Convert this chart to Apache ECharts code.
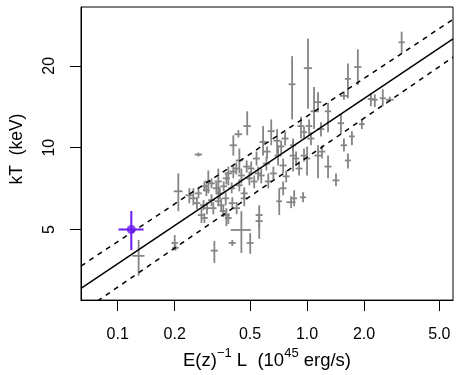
<!DOCTYPE html>
<html><head><meta charset="utf-8">
<script src="https://cdn.jsdelivr.net/npm/echarts@6/dist/echarts.min.js"></script>
<style>html,body{margin:0;padding:0;background:#fff}#c{width:459px;height:375px}</style>
</head><body><div id="c"></div>
<script>
// cluster sample: luminosity E(z)^-1 L (10^45 erg/s) and temperature kT (keV)
const L = [3.16,0.834,1.012,1.644,1.855,1.566,2.173,2.280,2.512,2.735,1.947,1.089,1.143,1.291,1.510,1.726,1.566,1.644,1.422,0.483,0.434,0.408,0.586,0.647,0.695,0.766,0.929,0.964,1.025,1.143,1.199,1.291,1.0,0.844,0.703,0.615,0.748,0.730,0.844,0.875,0.964,0.748,0.713,0.824,0.855,0.953,0.559,0.559,0.624,0.573,0.466,0.450,0.501,0.403,0.439,0.507,0.526,0.496,0.552,0.450,0.267,0.209,0.239,0.251,0.267,0.277,0.287,0.284,0.294,0.301,0.313,0.320,0.332,0.340,0.352,0.361,0.375,0.384,0.375,0.384,0.408,0.423,0.439,0.466,0.324,0.200,0.202,0.313,0.287,0.340,0.129,0.403,
  0.262,0.296,0.346,0.363,0.400,0.425,0.480,0.541,0.610,0.664,0.776,1.049,1.184,0.908,0.372];
const Lerr = [0.12,0.035,0.05,0.06,0.08,0.07,0.08,0.08,0.09,0.13,0.07,0.045,0.05,0.05,0.06,0.06,0.06,0.06,0.06,0.022,0.02,0.018,0.025,0.028,0.03,0.032,0.04,0.035,0.04,0.05,0.05,0.055,0.04,0.035,0.03,0.026,0.032,0.03,0.03,0.035,0.04,0.032,0.025,0.045,0.03,0.035,0.024,0.024,0.026,0.024,0.02,0.055,0.021,0.017,0.019,0.021,0.022,0.021,0.023,0.019,0.012,0.011,0.011,0.011,0.011,0.012,0.012,0.012,0.012,0.013,0.013,0.013,0.014,0.015,0.015,0.015,0.016,0.016,0.016,0.017,0.017,0.018,0.018,0.02,0.014,0.008,0.008,0.013,0.012,0.014,0.0095,0.017,
  0.011,0.012,0.015,0.015,0.017,0.018,0.02,0.023,0.026,0.028,0.033,0.045,0.05,0.038,0.016];
const kT = [24.4,17.1,19.6,17.9,19.8,15.5,15.1,15.0,15.2,15.0,12.2,13.6,14.7,13.6,12.3,11.0,10.2,8.97,7.58,12.0,11.2,10.2,10.5,11.5,10.6,10.8,12.0,11.4,12.0,9.35,9.67,8.52,9.12,9.35,9.35,9.67,8.60,10.1,10.2,9.12,9.35,7.09,6.35,6.30,6.51,6.57,5.65,5.37,7.51,7.90,6.51,4.98,4.46,4.46,8.97,8.38,7.51,7.71,8.04,7.90,9.43,6.91,6.68,6.51,6.79,5.65,5.51,6.14,6.97,7.51,6.41,5.99,7.09,7.51,6.14,5.84,5.65,5.51,7.71,8.04,8.17,8.38,7.27,6.79,4.18,4.46,4.28,7.39,7.21,6.35,4.00,6.25,
  6.25,5.99,6.79,7.21,7.09,5.99,8.52,9.12,8.74,8.04,7.84,10.8,11.7,8.38,6.51];
const kTlo = [22.2,12.7,13.9,15.2,17.0,15.0,14.2,14.1,14.2,14.7,11.7,11.7,13.5,11.4,11.2,10.2,9.67,8.38,7.21,11.1,10.9,9.35,9.35,10.2,9.43,10.2,10.8,10.8,11.1,7.71,9.12,7.71,7.90,8.17,8.60,9.12,8.04,9.51,9.67,8.60,8.89,6.68,5.65,5.99,6.09,6.30,4.62,5.06,7.09,7.39,6.09,4.10,4.07,4.35,8.04,7.90,7.09,7.27,7.58,7.39,9.27,5.84,6.25,6.14,6.51,5.28,5.28,5.89,6.63,6.79,6.09,5.69,6.74,6.68,5.84,5.55,5.15,5.24,7.33,7.27,7.71,7.97,6.91,6.46,3.77,4.21,4.18,7.09,6.91,6.09,3.38,5.94,
  5.94,5.69,6.46,6.91,6.79,5.69,8.10,8.60,8.24,7.64,7.45,10.2,11.0,7.90,6.14];
const kThi = [26.7,21.7,25.2,20.4,23.0,16.1,15.9,15.7,16.4,15.4,12.7,16.7,16.0,14.6,13.3,11.5,10.8,9.51,8.04,13.6,11.6,11.1,12.0,12.7,11.7,11.4,13.0,11.9,12.7,10.2,10.2,9.35,10.1,10.5,10.2,10.1,9.12,10.6,10.8,9.67,9.92,7.51,7.09,6.63,6.97,6.85,6.14,5.74,8.04,8.38,6.97,5.84,4.85,4.58,9.92,8.89,7.90,8.17,8.52,8.38,9.59,8.04,7.09,7.09,7.09,5.99,5.74,6.41,7.33,8.24,6.74,6.30,7.45,8.38,6.51,6.14,5.99,5.74,8.10,8.52,8.60,8.82,7.64,7.15,4.54,4.77,4.39,7.71,7.51,6.63,4.58,6.57,
  6.57,6.30,7.15,7.51,7.45,6.30,8.97,9.67,9.27,8.52,8.24,11.4,12.4,8.89,6.85];

// highlighted cluster
const hlL = [0.118], hlLlo = [0.101], hlLhi = [0.137];
const hlKT = [5.0], hlKTlo = [4.2], hlKThi = [5.85];

// best fit and scatter lines (end points)
const fitL = [0.064, 5.90];
const fitKT = [3.04, 25.1];
const upperKT = [3.67, 29.6];
const lowerKT = [2.48, 21.5];

const xTicks = [0.1, 0.2, 0.5, 1, 2, 5];
const xTickLabels = ['0.1', '0.2', '0.5', '1.0', '2.0', '5.0'];
const yTicks = [5, 10, 20];
const yTickLabels = ['5', '10', '20'];

const FONT = '"Liberation Sans", Arial, Helvetica, sans-serif';
const GRAY = '#858585';
const PURPLE = '#6a1cf0';

function lab(ticks, labels) {
  return function (v) {
    for (let i = 0; i < ticks.length; i++) {
      if (Math.abs(v - ticks[i]) / ticks[i] < 1e-6) return labels[i];
    }
    return '';
  };
}

function errRender(color, lw) {
  return function (params, api) {
    const x = api.value(0), y = api.value(1);
    const a = api.coord([api.value(2), y]), b = api.coord([api.value(3), y]);
    const c = api.coord([x, api.value(4)]), d = api.coord([x, api.value(5)]);
    const st = { stroke: color, lineWidth: lw };
    return {
      type: 'group', children: [
        { type: 'line', shape: { x1: a[0], y1: a[1], x2: b[0], y2: b[1] }, style: st },
        { type: 'line', shape: { x1: c[0], y1: c[1], x2: d[0], y2: d[1] }, style: st }
      ]
    };
  };
}

const errData = L.map((v, i) => [v, kT[i], v - Lerr[i], v + Lerr[i], kTlo[i], kThi[i]]);
const hlData = hlL.map((v, i) => [v, hlKT[i], hlLlo[i], hlLhi[i], hlKTlo[i], hlKThi[i]]);

const chart = echarts.init(document.getElementById('c'), null, { renderer: 'canvas' });
chart.setOption({
  animation: false,
  backgroundColor: '#fff',
  textStyle: { fontFamily: FONT },
  grid: { left: 78, top: 7, width: 375, height: 296, show: true, borderColor: '#000', borderWidth: 1, backgroundColor: 'transparent' },
  xAxis: {
    type: 'log', min: 0.064, max: 5.90, logBase: 10,
    splitLine: { show: false }, minorTick: { show: false },
    axisLine: { show: true, lineStyle: { color: '#000', width: 1 } },
    axisTick: { show: true, inside: false, length: 11, lineStyle: { color: '#000', width: 1 }, customValues: xTicks },
    axisLabel: { customValues: xTicks, formatter: lab(xTicks, xTickLabels), color: '#000', fontSize: 16, margin: 26, fontFamily: FONT },
    name: '{a|E(z)}{s|−1}{a| L  (10}{s|45}{a| erg/s)}',
    nameLocation: 'middle', nameGap: 42,
    nameTextStyle: {
      color: '#000', fontFamily: FONT,
      rich: {
        a: { fontSize: 18.5, lineHeight: 23, color: '#000', fontFamily: FONT, verticalAlign: 'bottom' },
        s: { fontSize: 13, lineHeight: 23, color: '#000', fontFamily: FONT, verticalAlign: 'top' }
      }
    }
  },
  yAxis: {
    type: 'log', min: 2.75, max: 32.9, logBase: 10,
    splitLine: { show: false }, minorTick: { show: false },
    axisLine: { show: true, lineStyle: { color: '#000', width: 1 } },
    axisTick: { show: true, inside: false, length: 11, lineStyle: { color: '#000', width: 1 }, customValues: yTicks },
    axisLabel: { customValues: yTicks, formatter: lab(yTicks, yTickLabels), color: '#000', fontSize: 16, margin: 23, rotate: 90, fontFamily: FONT },
    name: 'kT  (keV)', nameLocation: 'middle', nameGap: 55,
    nameTextStyle: { color: '#000', fontSize: 17.5, fontFamily: FONT, padding: [0, 0, 0, 9] }
  },
  series: [
    {
      type: 'custom', name: 'clusters', renderItem: errRender(GRAY, 1.8), data: errData, clip: true,
      encode: { x: 0, y: 1 }, z: 2
    },
    {
      type: 'line', name: 'fit', data: fitL.map((v, i) => [v, fitKT[i]]), showSymbol: false, symbol: 'none',
      lineStyle: { color: '#000', width: 1.5, type: 'solid' }, clip: true, z: 3
    },
    {
      type: 'line', name: 'upper', data: fitL.map((v, i) => [v, upperKT[i]]), showSymbol: false, symbol: 'none',
      lineStyle: { color: '#000', width: 1.5, type: [5, 5] }, clip: true, z: 3
    },
    {
      type: 'line', name: 'lower', data: fitL.map((v, i) => [v, lowerKT[i]]), showSymbol: false, symbol: 'none',
      lineStyle: { color: '#000', width: 1.5, type: [5, 5] }, clip: true, z: 3
    },
    {
      type: 'custom', name: 'highlight', renderItem: errRender(PURPLE, 2), data: hlData, clip: true,
      encode: { x: 0, y: 1 }, z: 4
    },
    {
      type: 'scatter', name: 'highlight point', data: hlL.map((v, i) => [v, hlKT[i]]), symbol: 'circle', symbolSize: 9,
      itemStyle: { color: PURPLE }, z: 5
    }
  ]
});
</script>
</body></html>
